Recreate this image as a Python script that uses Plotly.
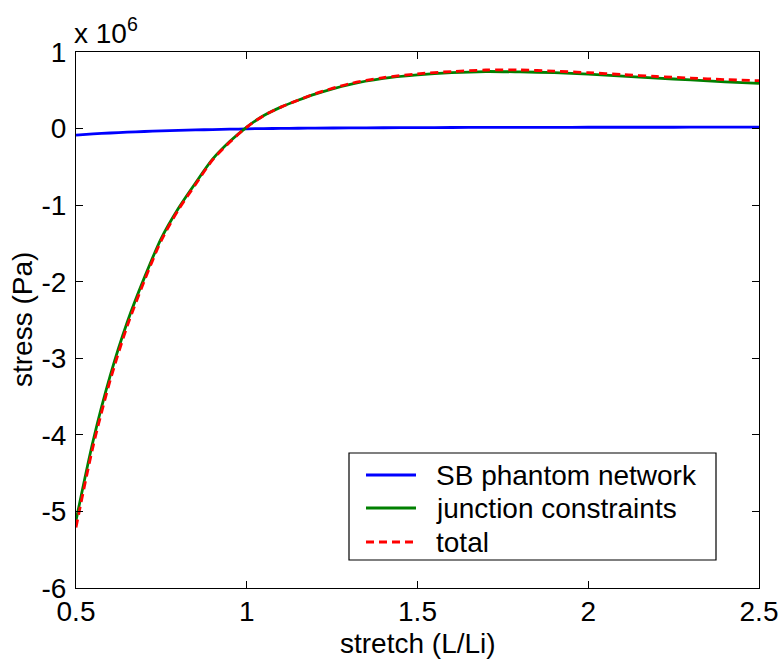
import plotly.graph_objects as go

# stretch ratio L/Li
stretch = [0.50, 0.55, 0.60, 0.65, 0.70, 0.75, 0.80, 0.85, 0.90, 0.95,
           1.00, 1.05, 1.10, 1.15, 1.20, 1.30, 1.40, 1.50, 1.60, 1.70,
           1.80, 1.90, 2.00, 2.10, 2.20, 2.30, 2.40, 2.50]

# stress contributions, in units of 10^6 Pa
sb_phantom = [-0.085, -0.070, -0.058, -0.047, -0.038, -0.030, -0.024, -0.018, -0.013, -0.008,
              -0.004, 0.000, 0.002, 0.004, 0.006, 0.009, 0.011, 0.013, 0.014, 0.015,
              0.016, 0.016, 0.017, 0.017, 0.017, 0.018, 0.018, 0.018]

junction = [-5.12, -4.08, -3.23, -2.53, -1.95, -1.43, -1.04, -0.71, -0.40, -0.17,
            0.02, 0.17, 0.28, 0.37, 0.45, 0.575, 0.655, 0.70, 0.73, 0.745,
            0.74, 0.73, 0.71, 0.685, 0.66, 0.635, 0.61, 0.59]

total = [-5.21, -4.15, -3.29, -2.58, -1.99, -1.46, -1.06, -0.73, -0.41, -0.18,
         0.02, 0.17, 0.28, 0.37, 0.455, 0.585, 0.665, 0.715, 0.745, 0.765,
         0.765, 0.75, 0.73, 0.705, 0.68, 0.66, 0.64, 0.625]

series_names = ["SB phantom network", "junction constraints", "total"]

x_ticks = [0.5, 1, 1.5, 2, 2.5]
y_ticks = [-6, -5, -4, -3, -2, -1, 0, 1]

FONT = "Liberation Sans, Arial, Helvetica, sans-serif"
FS = 28

W, H = 780, 660
ML, MR, MT, MB = 76, 21, 52, 72
PW, PH = W - ML - MR, H - MT - MB


def px_x(px):
    return (px - ML) / PW


def px_y(py):
    return (H - MB - py) / PH


styles = [
    dict(color="#0000ff", width=2.8),
    dict(color="#008000", width=2.8),
    dict(color="#ff0000", width=2.8, dash="8px,5px"),
]

fig = go.Figure()
for ys, name, st in zip([sb_phantom, junction, total], series_names, styles):
    fig.add_trace(go.Scatter(x=stretch, y=ys, mode="lines", name=name,
                             line=dict(shape="spline", smoothing=0.8, **st),
                             showlegend=False))

axis_common = dict(
    showline=True, linecolor="black", linewidth=1.2, mirror="ticks",
    ticks="inside", ticklen=7, tickcolor="black", tickwidth=1,
    showgrid=False, zeroline=False, automargin=False,
    tickfont=dict(family=FONT, size=FS, color="black"),
)

# boxed legend in the lower right of the axes
shapes = [dict(type="rect", xref="paper", yref="paper",
               x0=px_x(349), x1=px_x(716), y0=px_y(560), y1=px_y(453),
               line=dict(color="black", width=1.2), fillcolor="white", layer="above")]
annotations = []
row_y = [475, 508, 542]
for name, st, ry in zip(series_names, styles, row_y):
    shapes.append(dict(type="line", xref="paper", yref="paper",
                       x0=px_x(366), x1=px_x(416), y0=px_y(ry), y1=px_y(ry),
                       line=dict(color=st["color"], width=st["width"],
                                 dash=st.get("dash", "solid")),
                       layer="above"))
    annotations.append(dict(text=name, xref="paper", yref="paper",
                            x=px_x(434), y=px_y(ry), xanchor="left", yanchor="middle",
                            showarrow=False,
                            font=dict(family=FONT, size=FS, color="black")))

annotations += [
    dict(text="x 10<sup>6</sup>", xref="paper", yref="paper", x=0.0, y=1.0,
         xanchor="left", yanchor="bottom", xshift=-4, yshift=1, showarrow=False,
         font=dict(family=FONT, size=FS, color="black")),
    dict(text="stretch (L/Li)", xref="paper", yref="paper", x=0.5, y=0,
         xanchor="center", yanchor="middle", yshift=-55, showarrow=False,
         font=dict(family=FONT, size=FS, color="black")),
    dict(text="stress (Pa)", xref="paper", yref="paper", x=0, y=0.5,
         xanchor="center", yanchor="middle", xshift=-54, textangle=-90,
         showarrow=False, font=dict(family=FONT, size=FS, color="black")),
]

fig.update_layout(
    width=W, height=H,
    margin=dict(l=ML, r=MR, t=MT, b=MB),
    paper_bgcolor="white", plot_bgcolor="white",
    font=dict(family=FONT, size=FS, color="black"),
    xaxis=dict(range=[0.5, 2.5], tickvals=x_ticks,
               ticktext=[f"{v:g}" for v in x_ticks], ticklabelstandoff=-2,
               **axis_common),
    yaxis=dict(range=[-6, 1], tickvals=y_ticks,
               ticktext=[f"{v:g}" for v in y_ticks], ticklabelstandoff=3,
               **axis_common),
    showlegend=False,
    shapes=shapes,
    annotations=annotations,
)

fig.write_html("out.html")
